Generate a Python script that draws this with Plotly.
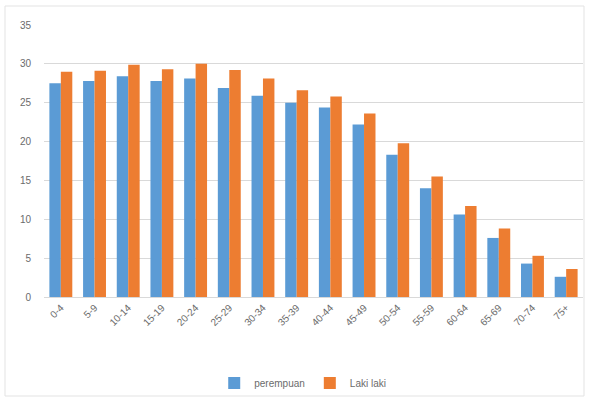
import plotly.graph_objects as go

# Age groups and values per sex
age_groups = ["0-4", "5-9", "10-14", "15-19", "20-24", "25-29", "30-34", "35-39",
              "40-44", "45-49", "50-54", "55-59", "60-64", "65-69", "70-74", "75+"]
perempuan = [27.5, 27.8, 28.4, 27.8, 28.1, 26.9, 25.9, 25.0,
             24.4, 22.2, 18.3, 14.0, 10.6, 7.6, 4.3, 2.6]
laki_laki = [29.0, 29.1, 29.9, 29.3, 30.0, 29.2, 28.1, 26.6,
             25.8, 23.6, 19.8, 15.5, 11.7, 8.8, 5.3, 3.6]

y_ticks = [0, 5, 10, 15, 20, 25, 30, 35]

font_family = "Liberation Sans, Arial, sans-serif"
text_gray = "#6b6b6b"
grid_gray = "#d9d9d9"

fig = go.Figure()
fig.add_trace(go.Bar(x=age_groups, y=perempuan, name="perempuan",
                     marker=dict(color="#5b9bd5", line=dict(width=0))))
fig.add_trace(go.Bar(x=age_groups, y=laki_laki, name="Laki laki",
                     marker=dict(color="#ed7d31", line=dict(width=0))))

fig.update_layout(
    width=590, height=404,
    margin=dict(l=44, r=7, t=25, b=107),
    paper_bgcolor="white", plot_bgcolor="white",
    barmode="group", bargap=0.32, bargroupgap=0.0,
    font=dict(family=font_family, size=10, color=text_gray),
    showlegend=True,
    legend=dict(orientation="h", x=0.48, xanchor="center", y=-0.316, yanchor="middle",
                font=dict(size=10, color=text_gray), itemwidth=30,
                bgcolor="rgba(0,0,0,0)", traceorder="normal"),
    xaxis=dict(tickangle=-45, showgrid=False, showline=False, zeroline=False,
               ticks="", ticklabelstandoff=2, tickfont=dict(size=10, color=text_gray)),
    yaxis=dict(range=[0, 35], tickvals=y_ticks, showgrid=True, gridcolor=grid_gray,
               gridwidth=1, zeroline=True, zerolinecolor=grid_gray, zerolinewidth=1,
               showline=False, ticks="", ticklabelstandoff=12,
               tickfont=dict(size=10, color=text_gray)),
    shapes=[dict(type="rect", xref="paper", yref="paper",
                 x0=(5 - 44) / 539, x1=(584 - 44) / 539,
                 y0=(297 - 396) / 272, y1=(297 - 6) / 272,
                 line=dict(color="#e3e3e3", width=1), fillcolor="rgba(0,0,0,0)",
                 layer="below")],
)

fig.write_html("out.html")
